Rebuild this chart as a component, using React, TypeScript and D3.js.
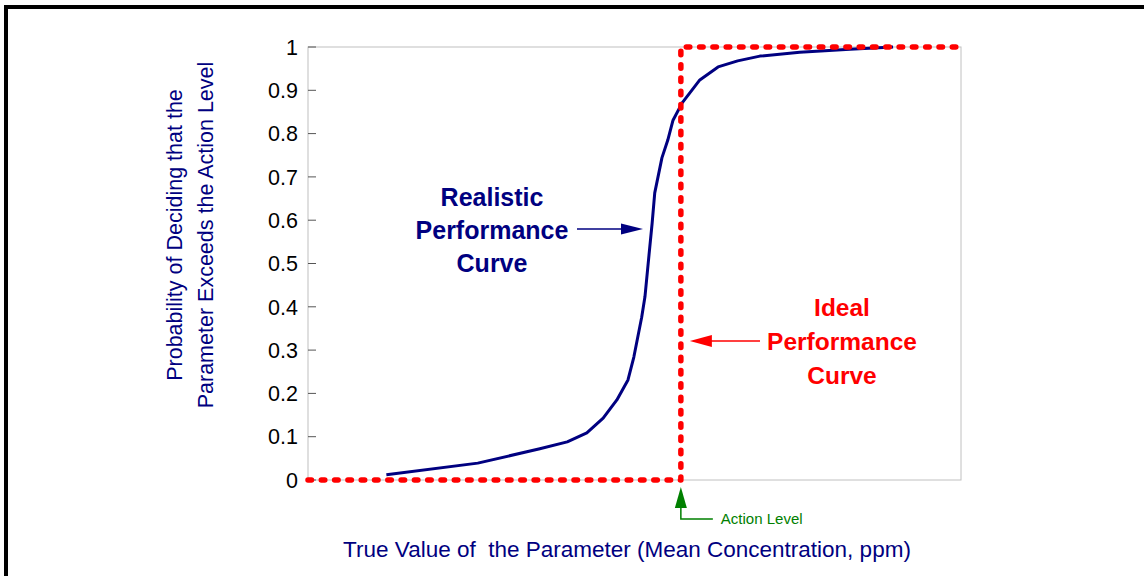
import React from "react";
import * as d3 from "d3";

// realistic performance curve (x in arbitrary concentration units 0..100)
const curveX = [12, 26, 35.5, 39.7, 42.7, 45.2, 47.3, 49, 49.9, 51.1, 51.6, 52.1, 52.7, 53.1, 54.2, 55.1, 55.9, 57.3, 60, 62.8, 65.8, 69.2, 75.3, 83, 89.6];
const curveY = [0.012, 0.039, 0.072, 0.088, 0.109, 0.143, 0.185, 0.231, 0.284, 0.376, 0.423, 0.501, 0.593, 0.663, 0.744, 0.785, 0.831, 0.871, 0.924, 0.954, 0.968, 0.979, 0.988, 0.995, 1.0];

// ideal step curve
const actionLevel = 57.1;
const idealX = [0, actionLevel, actionLevel, 100];
const idealY = [0, 0, 1, 1];

const yTicks = [0, 0.1, 0.2, 0.3, 0.4, 0.5, 0.6, 0.7, 0.8, 0.9, 1];

const realisticLabel = ["Realistic", "Performance", "Curve"];
const idealLabel = ["Ideal", "Performance", "Curve"];

const W = 1144;
const H = 576;
const FONT = "'Liberation Sans', Arial, Helvetica, sans-serif";
const NAVY = "#000080";
const RED = "#ff0000";
const GREEN = "#008000";

export default function App() {
  const x = d3.scaleLinear().domain([0, 100]).range([308, 961]);
  const y = d3.scaleLinear().domain([0, 1]).range([480, 47]);

  const line = d3
    .line<number>()
    .x((d, i) => x(curveX[i]))
    .y((d) => y(d));

  const idealLine = d3
    .line<number>()
    .x((d, i) => x(idealX[i]))
    .y((d) => y(d));

  const ax = x(actionLevel);

  return (
    <div style={{ position: "fixed", left: 0, top: 0 }}>
      <svg width={W} height={H} style={{ display: "block", background: "#fff" }}>
        {/* frame */}
        <rect x={4} y={5} width={W} height={4} fill="#000" />
        <rect x={4} y={5} width={4} height={H} fill="#000" />

        {/* plot box */}
        <rect
          x={x(0)}
          y={y(1)}
          width={x(100) - x(0)}
          height={y(0) - y(1)}
          fill="none"
          stroke="#c0c0c0"
          strokeWidth={1}
        />

        {/* y ticks */}
        {yTicks.map((t) => (
          <g key={t}>
            <line x1={x(0)} x2={x(0) + 8} y1={y(t)} y2={y(t)} stroke="#555" strokeWidth={1} />
            <text
              x={298}
              y={y(t)}
              dy="0.36em"
              textAnchor="end"
              fontFamily={FONT}
              fontSize={21.5}
              fill="#000"
            >
              {d3.format("")(t)}
            </text>
          </g>
        ))}

        {/* y title */}
        <g transform={`translate(174,235) rotate(-90)`}>
          <text textAnchor="middle" dy="0.36em" fontFamily={FONT} fontSize={21.5} fill={NAVY}>
            Probability of Deciding that the
          </text>
        </g>
        <g transform={`translate(205,235) rotate(-90)`}>
          <text textAnchor="middle" dy="0.36em" fontFamily={FONT} fontSize={21.5} fill={NAVY}>
            Parameter Exceeds the Action Level
          </text>
        </g>

        {/* x title */}
        <text
          x={627}
          y={549}
          dy="0.36em"
          textAnchor="middle"
          fontFamily={FONT}
          fontSize={22.5}
          fill={NAVY}
          style={{ whiteSpace: "pre" }}
        >
          {"True Value of  the Parameter (Mean Concentration, ppm)"}
        </text>

        {/* realistic curve */}
        <path d={line(curveY) || ""} fill="none" stroke={NAVY} strokeWidth={3} strokeLinejoin="round" />

        {/* ideal curve */}
        <path
          d={idealLine(idealY) || ""}
          fill="none"
          stroke={RED}
          strokeWidth={5.5}
          strokeDasharray="3.5 9.8"
          strokeLinecap="round"
          strokeLinejoin="round"
        />

        {/* realistic annotation */}
        {realisticLabel.map((s, i) => (
          <text
            key={s}
            x={492}
            y={197 + i * 33}
            dy="0.36em"
            textAnchor="middle"
            fontFamily={FONT}
            fontWeight="bold"
            fontSize={25}
            fill={NAVY}
          >
            {s}
          </text>
        ))}
        <line x1={577} x2={625} y1={229} y2={229} stroke={NAVY} strokeWidth={1.5} />
        <path d="M621,223.5 L643,229 L621,234.5 Z" fill={NAVY} />

        {/* ideal annotation */}
        {idealLabel.map((s, i) => (
          <text
            key={s}
            x={842}
            y={307 + i * 34}
            dy="0.36em"
            textAnchor="middle"
            fontFamily={FONT}
            fontWeight="bold"
            fontSize={24.5}
            fill={RED}
          >
            {s}
          </text>
        ))}
        <line x1={708} x2={760} y1={341} y2={341} stroke={RED} strokeWidth={1.5} />
        <path d={`M${ax + 31},335 L${ax + 9},341 L${ax + 31},347 Z`} fill={RED} />

        {/* action level marker */}
        <path d={`M${ax},487 L${ax - 6},508 L${ax + 6},508 Z`} fill={GREEN} />
        <path d={`M${ax},507 L${ax},519 L${ax + 32},519`} fill="none" stroke={GREEN} strokeWidth={1.5} />
        <text x={ax + 40} y={519} dy="0.36em" fontFamily={FONT} fontSize={15} fill={GREEN}>
          Action Level
        </text>
      </svg>
    </div>
  );
}
